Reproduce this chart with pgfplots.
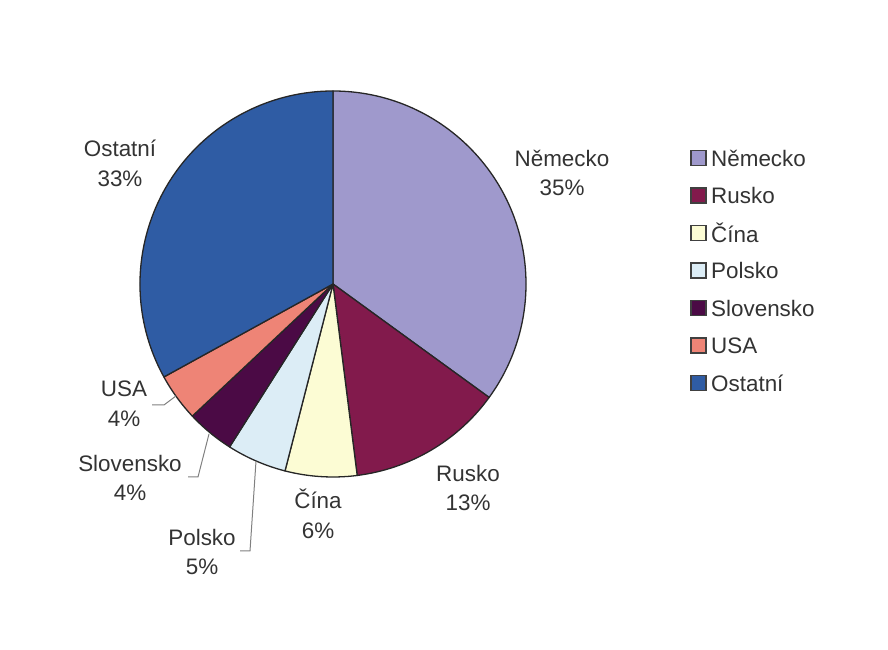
\documentclass[border=0pt]{standalone}
\usepackage{pgfplots}
\pgfplotsset{compat=1.18}
\usepackage{pgfplotstable}
\usepackage{fontspec}
\setmainfont{Liberation Sans}
\definecolor{cNem}{HTML}{9F99CC}
\definecolor{cRus}{HTML}{821A4C}
\definecolor{cCin}{HTML}{FCFCD4}
\definecolor{cPol}{HTML}{DCEDF6}
\definecolor{cSlo}{HTML}{4B0A45}
\definecolor{cUSA}{HTML}{EE8476}
\definecolor{cOst}{HTML}{2F5CA4}
\definecolor{txt}{HTML}{333333}

% share (%), colour, label position (x,y of label centre, pixels from top-left)
\pgfplotstableread[col sep=comma]{
name,value,color,lx,ly
Německo,35,cNem,562,173
Rusko,13,cRus,468,488
Čína,6,cCin,318,514
Polsko,5,cPol,202,552
Slovensko,4,cSlo,130,478
USA,4,cUSA,124,404
Ostatní,33,cOst,120,163
}\piedata

\begin{document}
\begin{tikzpicture}
\begin{axis}[
  width=888bp, height=650bp, scale only axis,
  xmin=0, xmax=888, ymin=0, ymax=650,
  hide axis, clip=false,
]
\path (axis cs:0,0) rectangle (axis cs:888,650);
\pgfplotstablegetrowsof{\piedata}
\pgfmathtruncatemacro\N{\pgfplotsretval-1}
\def\curang{90}
\pgfplotsforeachungrouped \i in {0,...,\N}{%
  \pgfplotstablegetelem{\i}{value}\of\piedata \let\v\pgfplotsretval
  \pgfplotstablegetelem{\i}{color}\of\piedata \let\c\pgfplotsretval
  \pgfplotstablegetelem{\i}{name}\of\piedata \let\nm\pgfplotsretval
  \pgfplotstablegetelem{\i}{lx}\of\piedata \let\lx\pgfplotsretval
  \pgfplotstablegetelem{\i}{ly}\of\piedata \let\ly\pgfplotsretval
  \pgfmathsetmacro\dlt{-3.6*\v}
  \pgfmathsetmacro\lyy{650-\ly}
  \pgfmathsetmacro\legy{650-(158+37.5*\i)}
  \edef\cmd{%
    \noexpand\filldraw[fill=\c, draw=black!85, line width=1.3pt, line join=round]
      (axis cs:333,366) -- ++(\curang:193bp)
      arc[start angle=\curang, delta angle=\dlt, radius=193bp] -- cycle;
    \noexpand\node[text=txt, font=\noexpand\fontsize{22.5}{30}\noexpand\selectfont, align=center]
      at (axis cs:\lx,\lyy) {\nm\noexpand\\\v\noexpand\%};
    \noexpand\filldraw[fill=\c, draw=black!75, line width=1.2pt]
      (axis cs:691,\legy) ++(0,-7.5bp) rectangle ++(15bp,15bp);
    \noexpand\node[text=txt, font=\noexpand\fontsize{22.5}{26}\noexpand\selectfont, anchor=west, inner sep=0pt]
      at (axis cs:711,\legy) {\nm};
  }%
  \cmd
  \pgfmathsetmacro\curang{\curang+\dlt}%
}
% leader lines
\draw[gray, line width=1pt] (axis cs:152,245) -- (axis cs:164,245) -- (axis cs:176,254);
\draw[gray, line width=1pt] (axis cs:188,173) -- (axis cs:198,173) -- (axis cs:209,216);
\draw[gray, line width=1pt] (axis cs:240,99) -- (axis cs:250,99) -- (axis cs:256,189);
\end{axis}
\end{tikzpicture}
\end{document}
